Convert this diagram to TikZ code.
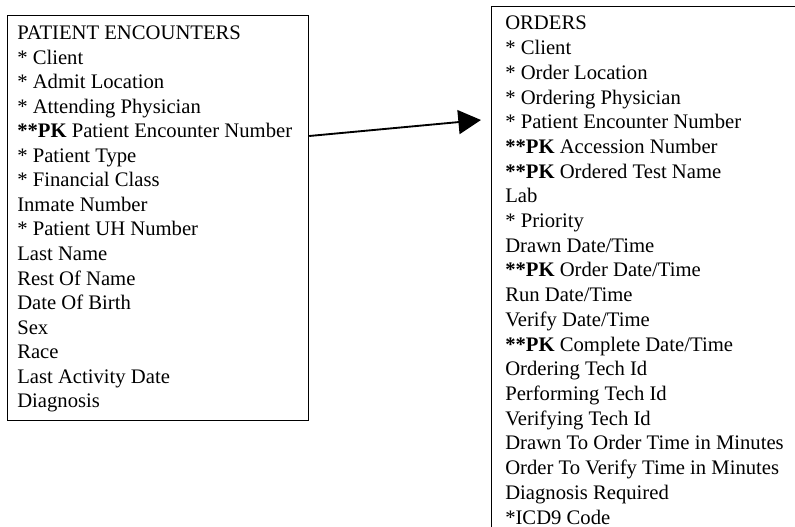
\documentclass[tikz,border=0pt]{standalone}
\usepackage{fontspec}
\setmainfont{Liberation Serif}
\usetikzlibrary{calc,arrows.meta}

\begin{document}
\begin{tikzpicture}[x=0.75pt,y=-0.75pt,
  every node/.style={font=\fontsize{15.5pt}{18pt}\selectfont},
  tablebox/.style={draw=black,line width=0.9pt,inner sep=0pt,anchor=north west},
  fieldtext/.style={anchor=base west,inner sep=0pt},
  conn/.style={line width=1.4pt,-{Triangle[length=17pt,width=18pt]}}]
  \useasboundingbox (0,0) rectangle (795,527);
  \clip (0,0) rectangle (795,527);

  % table frames
  \node[tablebox,minimum width=225.75pt,minimum height=303.75pt] (enc) at (7,15) {};
  \node[tablebox,minimum width=247.5pt,minimum height=405pt] (ord) at (491,6) {};

  % PATIENT ENCOUNTERS fields
  \foreach \t [count=\i] in {PATIENT ENCOUNTERS,
      * Client,
      * Admit Location,
      * Attending Physician,
      {\textbf{**PK} Patient Encounter Number},
      * Patient Type,
      * Financial Class,
      Inmate Number,
      * Patient UH Number,
      Last Name,
      Rest Of Name,
      Date Of Birth,
      Sex,
      Race,
      Last Activity Date,
      Diagnosis}
    \node[fieldtext] (e\i) at (17,{40+24.5*(\i-1)}) {\t};

  % ORDERS fields
  \foreach \t [count=\i] in {ORDERS,
      * Client,
      * Order Location,
      * Ordering Physician,
      * Patient Encounter Number,
      {\textbf{**PK} Accession Number},
      {\textbf{**PK} Ordered Test Name},
      Lab,
      * Priority,
      Drawn Date/Time,
      {\textbf{**PK} Order Date/Time},
      Run Date/Time,
      Verify Date/Time,
      {\textbf{**PK} Complete Date/Time},
      Ordering Tech Id,
      Performing Tech Id,
      Verifying Tech Id,
      Drawn To Order Time in Minutes,
      Order To Verify Time in Minutes,
      Diagnosis Required,
      *ICD9 Code}
    \node[fieldtext] (o\i) at (505,{30+24.7*(\i-1)}) {\t};

  % relationship arrow
  \coordinate (src) at ($(enc.north east)+(0,121)$);
  \coordinate (tip) at ($(ord.north west)+(-10,114)$);
  \draw[conn] (src) -- (tip);
\end{tikzpicture}
\end{document}
